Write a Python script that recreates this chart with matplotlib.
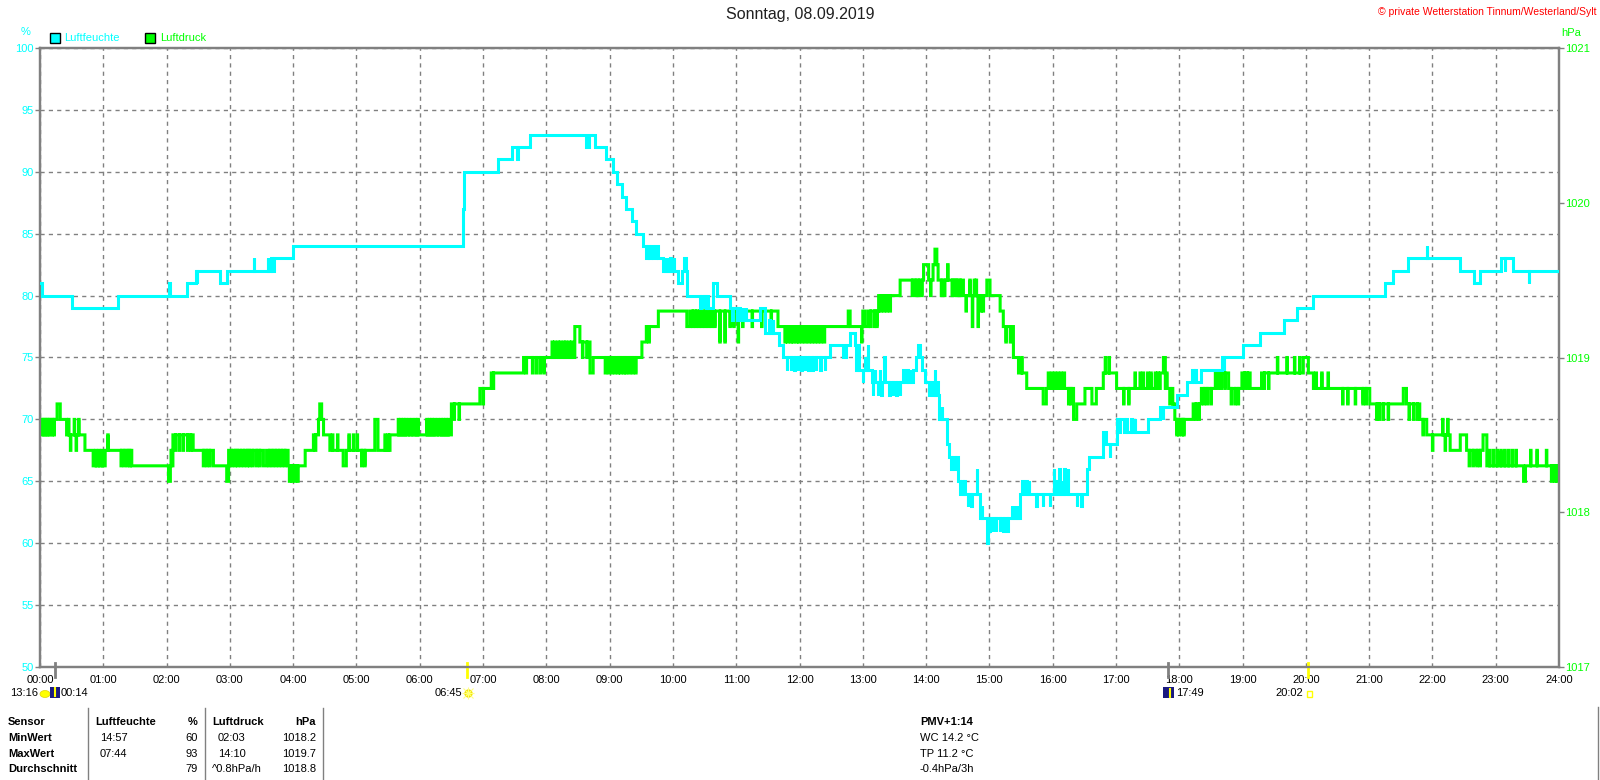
import bisect
import matplotlib
matplotlib.use('Agg')
import matplotlib.pyplot as plt
import matplotlib.patches as mpatches
from matplotlib.lines import Line2D
from matplotlib.transforms import blended_transform_factory

plt.rcParams['font.family'] = ['Liberation Sans', 'DejaVu Sans']

W, H = 1600, 780
CYAN = '#00FFFF'
GREEN = '#00FF00'
GREY = '#808080'
YELLOW = '#FFFF00'
NAVY = '#1A1A80'

# ---------------- data ----------------
title = 'Sonntag, 08.09.2019'
credit = '\u00a9 private Wetterstation Tinnum/Westerland/Sylt'
series_names = ['Luftfeuchte', 'Luftdruck']
hour_labels = [f'{h:02d}:00' for h in range(25)]
hum_ticks = [50, 55, 60, 65, 70, 75, 80, 85, 90, 95, 100]
pres_ticks = [1017, 1018, 1019, 1020, 1021]

# relative humidity (%): level changes (hour, value) and one-sample excursions (hour, value)
hum_base = [
    (0.00, 81), (0.03, 80), (0.50, 79), (1.24, 80), (2.32, 81), (2.46, 82), (2.84, 81), (2.95, 82),
    (3.70, 83), (4.00, 84), (6.68, 87), (6.70, 90), (7.24, 91), (7.45, 92), (7.74, 93), (8.63, 92),
    (8.68, 93), (8.77, 92), (8.94, 91), (9.06, 90), (9.11, 89), (9.19, 88), (9.26, 87), (9.35, 86),
    (9.41, 85), (9.53, 84), (9.58, 83), (9.61, 84), (9.63, 83), (9.66, 84), (9.69, 83), (9.74, 84),
    (9.76, 83), (9.84, 82), (10.08, 81), (10.14, 82), (10.17, 83), (10.20, 82), (10.22, 80), (10.56, 79),
    (10.64, 81), (10.69, 80), (10.90, 79), (11.01, 78), (11.04, 79), (11.06, 78), (11.38, 79), (11.46, 77),
    (11.67, 76), (11.74, 75), (12.48, 76), (12.69, 75), (12.73, 76), (12.80, 77), (12.87, 76), (12.90, 74),
    (13.15, 73), (13.80, 74), (13.84, 75), (13.87, 76), (13.91, 75), (13.94, 74), (13.98, 73), (14.11, 72),
    (14.20, 70), (14.33, 68), (14.36, 67), (14.51, 65), (14.54, 64), (14.85, 62), (14.96, 60), (14.98, 62),
    (15.48, 64), (16.54, 66), (16.58, 67), (16.80, 69), (16.85, 68), (17.01, 70), (17.12, 69), (17.51, 70),
    (17.70, 71), (17.96, 72), (18.12, 73), (18.20, 74), (18.23, 73), (18.25, 74), (18.27, 73), (18.35, 74),
    (18.67, 75), (19.01, 76), (19.28, 77), (19.65, 78), (19.86, 79), (20.12, 80), (21.25, 81), (21.38, 82),
    (21.62, 83), (22.44, 82), (22.65, 81), (22.75, 82), (23.09, 83), (23.28, 82), (24.00, 82),
]
hum_spikes = [
    (2.04, 81), (2.48, 81), (3.38, 83), (3.60, 83), (3.65, 83), (7.54, 91),
    (9.87, 83), (9.92, 83), (9.96, 83), (10.01, 83),
    (10.43, 79), (10.49, 79), (10.53, 79), (10.94, 78), (11.10, 79), (11.15, 79), (11.52, 78), (11.58, 78),
    (11.80, 74), (11.86, 74), (11.92, 74), (11.97, 74), (12.03, 74), (12.08, 74), (12.14, 74), (12.20, 74),
    (12.26, 74), (12.33, 74), (12.40, 74),
    (12.93, 76), (13.00, 73), (13.03, 75), (13.08, 76),
    (13.16, 72), (13.19, 74), (13.24, 72), (13.27, 74), (13.29, 72), (13.34, 75), (13.42, 72), (13.47, 72),
    (13.53, 72), (13.58, 72), (13.64, 74), (13.70, 74), (13.76, 74), (14.05, 72), (14.14, 74), (14.18, 73),
    (14.25, 71), (14.40, 66), (14.46, 66), (14.57, 65), (14.60, 65), (14.66, 63), (14.71, 63), (14.80, 66),
    (14.88, 63), (15.00, 61), (15.05, 61), (15.10, 61), (15.16, 61), (15.22, 61), (15.28, 61), (15.35, 63),
    (15.40, 63), (15.45, 63), (15.52, 65), (15.58, 65), (15.62, 65), (15.74, 63), (15.84, 63), (15.95, 63),
    (16.02, 66), (16.06, 65), (16.10, 66), (16.14, 65), (16.18, 66), (16.24, 66), (16.38, 63), (16.45, 63),
    (16.90, 67), (17.05, 69), (17.16, 70), (17.24, 70), (17.30, 70), (17.74, 70), (18.70, 74), (21.91, 84),
    (23.14, 82), (23.52, 81),
]

# air pressure (hPa): level changes (hour, value) and one-sample excursions (hour, value)
pres_base = [
    (0.00, 1018.6), (0.27, 1018.7), (0.32, 1018.6), (0.42, 1018.5), (0.71, 1018.4), (0.84, 1018.3),
    (1.03, 1018.4), (1.45, 1018.3), (2.03, 1018.2), (2.06, 1018.3), (2.10, 1018.5), (2.42, 1018.4),
    (2.74, 1018.3), (2.95, 1018.2), (2.98, 1018.4), (3.53, 1018.3), (3.58, 1018.4), (3.92, 1018.3),
    (4.19, 1018.4), (4.32, 1018.5), (4.40, 1018.6), (4.42, 1018.7), (4.45, 1018.6), (4.48, 1018.5),
    (4.58, 1018.4), (4.79, 1018.3), (4.84, 1018.4), (5.29, 1018.6), (5.34, 1018.4), (5.53, 1018.5),
    (6.50, 1018.7), (6.95, 1018.8), (7.13, 1018.9), (7.64, 1019.0), (8.45, 1019.2), (8.53, 1019.1),
    (8.69, 1018.9), (8.74, 1019.0), (9.51, 1019.1), (9.58, 1019.2), (9.77, 1019.3), (10.22, 1019.2),
    (10.27, 1019.3), (11.66, 1019.2), (12.77, 1019.3), (12.80, 1019.2), (13.00, 1019.3), (13.04, 1019.2),
    (13.09, 1019.3), (13.25, 1019.4), (13.59, 1019.5), (13.96, 1019.6), (14.04, 1019.5), (14.11, 1019.6),
    (14.14, 1019.7), (14.17, 1019.6), (14.19, 1019.5), (14.59, 1019.4), (14.96, 1019.5), (15.01, 1019.4),
    (15.17, 1019.3), (15.22, 1019.2), (15.38, 1019.0), (15.46, 1018.9), (15.59, 1018.8), (15.85, 1018.7),
    (15.90, 1018.8), (16.33, 1018.6), (16.38, 1018.7), (16.51, 1018.8), (16.62, 1018.7), (16.69, 1018.8),
    (16.80, 1018.9), (17.01, 1018.8), (17.70, 1018.9), (17.75, 1019.0), (17.78, 1018.8), (17.85, 1018.7),
    (17.93, 1018.6), (18.22, 1018.7), (18.35, 1018.8), (18.57, 1018.9), (18.78, 1018.8), (18.99, 1018.9),
    (19.12, 1018.8), (19.30, 1018.9), (19.96, 1019.0), (20.04, 1018.9), (20.12, 1018.8), (21.01, 1018.7),
    (21.54, 1018.8), (21.59, 1018.7), (21.80, 1018.6), (21.91, 1018.5), (22.28, 1018.4), (22.44, 1018.5),
    (22.54, 1018.4), (22.80, 1018.5), (22.86, 1018.3), (23.44, 1018.2), (23.47, 1018.3), (24.00, 1018.3),
]
pres_spikes = [
    (0.03, 1018.5), (0.06, 1018.5), (0.09, 1018.5), (0.12, 1018.5), (0.15, 1018.5), (0.19, 1018.5),
    (0.22, 1018.5), (0.45, 1018.6), (0.48, 1018.4), (0.54, 1018.6), (0.57, 1018.4), (0.61, 1018.6),
    (0.88, 1018.4), (0.93, 1018.4), (0.98, 1018.4), (1.07, 1018.5), (1.28, 1018.3), (1.33, 1018.3),
    (1.38, 1018.3), (1.42, 1018.3), (2.07, 1018.4), (2.14, 1018.4), (2.20, 1018.4), (2.26, 1018.4),
    (2.33, 1018.4), (2.38, 1018.4), (2.58, 1018.3), (2.63, 1018.3), (2.68, 1018.3),
    (3.03, 1018.3), (3.08, 1018.3), (3.12, 1018.3), (3.17, 1018.3), (3.22, 1018.3), (3.27, 1018.3),
    (3.31, 1018.3), (3.36, 1018.3), (3.42, 1018.3), (3.47, 1018.3), (3.62, 1018.3), (3.67, 1018.3),
    (3.72, 1018.3), (3.77, 1018.3), (3.82, 1018.3), (3.87, 1018.3), (3.94, 1018.2), (3.98, 1018.2),
    (4.03, 1018.2), (4.07, 1018.2), (4.35, 1018.4), (4.62, 1018.5), (4.70, 1018.5), (4.88, 1018.5),
    (4.95, 1018.5), (5.01, 1018.5), (5.08, 1018.3), (5.13, 1018.3), (5.45, 1018.5), (5.50, 1018.5),
    (5.66, 1018.6), (5.70, 1018.6), (5.74, 1018.6), (5.78, 1018.6), (5.83, 1018.6), (5.88, 1018.6),
    (5.93, 1018.6), (5.97, 1018.6), (6.11, 1018.6), (6.15, 1018.6), (6.19, 1018.6), (6.23, 1018.6),
    (6.28, 1018.6), (6.33, 1018.6), (6.37, 1018.6), (6.41, 1018.6), (6.45, 1018.6), (6.54, 1018.6),
    (6.62, 1018.6), (7.00, 1018.7), (7.16, 1018.8), (7.68, 1018.9), (7.78, 1018.9), (7.84, 1018.9),
    (7.90, 1018.9), (7.96, 1018.9), (8.09, 1019.1), (8.13, 1019.1), (8.18, 1019.1), (8.22, 1019.1),
    (8.27, 1019.1), (8.31, 1019.1), (8.36, 1019.1), (8.40, 1019.1), (8.57, 1019.0), (8.64, 1019.0),
    (8.93, 1018.9), (8.98, 1018.9), (9.03, 1018.9), (9.08, 1018.9), (9.13, 1018.9), (9.17, 1018.9),
    (9.22, 1018.9), (9.26, 1018.9), (9.31, 1018.9), (9.36, 1018.9), (9.41, 1018.9), (9.62, 1019.1),
    (10.31, 1019.2), (10.36, 1019.2), (10.41, 1019.2), (10.46, 1019.2), (10.51, 1019.2), (10.56, 1019.2),
    (10.61, 1019.2), (10.66, 1019.2), (10.74, 1019.1), (10.82, 1019.1), (10.90, 1019.2), (10.96, 1019.2),
    (11.03, 1019.1), (11.10, 1019.2), (11.25, 1019.2), (11.40, 1019.2), (11.55, 1019.2),
    (11.77, 1019.1), (11.81, 1019.1), (11.86, 1019.1), (11.90, 1019.1), (11.95, 1019.1), (11.99, 1019.1),
    (12.04, 1019.1), (12.09, 1019.1), (12.14, 1019.1), (12.19, 1019.1), (12.24, 1019.1), (12.29, 1019.1),
    (12.34, 1019.1), (12.39, 1019.1), (12.98, 1019.1), (13.12, 1019.2), (13.18, 1019.2), (13.22, 1019.2),
    (13.28, 1019.3), (13.33, 1019.3), (13.38, 1019.3), (13.43, 1019.3), (13.78, 1019.4), (13.83, 1019.4),
    (13.88, 1019.4), (13.93, 1019.4), (14.07, 1019.4), (14.24, 1019.4), (14.29, 1019.4), (14.34, 1019.6),
    (14.41, 1019.4), (14.45, 1019.4), (14.49, 1019.4), (14.54, 1019.4), (14.63, 1019.3), (14.69, 1019.5),
    (14.73, 1019.2), (14.76, 1019.5), (14.79, 1019.5), (14.82, 1019.2), (14.86, 1019.3), (14.90, 1019.3),
    (15.26, 1019.1), (15.33, 1019.1), (15.51, 1019.0), (15.93, 1018.9), (15.98, 1018.9), (16.03, 1018.9),
    (16.08, 1018.9), (16.13, 1018.9), (16.18, 1018.9), (16.25, 1018.7), (16.29, 1018.7), (16.83, 1019.0),
    (16.89, 1019.0), (17.12, 1018.7), (17.20, 1018.7), (17.30, 1018.9), (17.38, 1018.9), (17.43, 1018.9),
    (17.50, 1018.9), (17.55, 1018.9), (17.62, 1018.9), (17.66, 1018.9), (17.80, 1018.9), (17.89, 1018.8),
    (17.96, 1018.5), (17.99, 1018.5), (18.04, 1018.5), (18.07, 1018.5), (18.26, 1018.6), (18.31, 1018.6),
    (18.39, 1018.7), (18.44, 1018.7), (18.50, 1018.7), (18.61, 1018.8), (18.66, 1018.8), (18.72, 1018.8),
    (18.82, 1018.7), (18.88, 1018.7), (18.93, 1018.7), (19.03, 1018.8), (19.08, 1018.8), (19.34, 1018.8),
    (19.41, 1018.8), (19.55, 1019.0), (19.70, 1019.0), (19.82, 1019.0), (19.90, 1019.0), (20.16, 1018.9),
    (20.25, 1018.9), (20.35, 1018.9), (20.58, 1018.7), (20.66, 1018.7), (20.78, 1018.7), (20.90, 1018.7),
    (20.95, 1018.7), (21.12, 1018.6), (21.16, 1018.6), (21.22, 1018.6), (21.30, 1018.6), (21.63, 1018.6),
    (21.70, 1018.6), (21.76, 1018.6), (21.85, 1018.5), (22.00, 1018.4), (22.16, 1018.6), (22.20, 1018.4),
    (22.24, 1018.6), (22.58, 1018.3), (22.64, 1018.3), (22.70, 1018.3), (22.75, 1018.3), (22.90, 1018.4),
    (22.96, 1018.4), (23.02, 1018.4), (23.08, 1018.4), (23.14, 1018.4), (23.20, 1018.4), (23.26, 1018.4),
    (23.32, 1018.4), (23.55, 1018.4), (23.65, 1018.4), (23.80, 1018.4), (23.88, 1018.2), (23.93, 1018.2),
    (23.97, 1018.2),
]

# astronomical events on the time axis (hour, colour)
event_hours = [0.233, 6.75, 17.817, 20.033]
event_colors = [GREY, YELLOW, GREY, YELLOW]

# statistics table
table_rows = ['Sensor', 'MinWert', 'MaxWert', 'Durchschnitt']
hum_col_times = ['Luftfeuchte', '14:57', '07:44', '']
hum_col_vals = ['%', '60', '93', '79']
pres_col_times = ['Luftdruck', '02:03', '14:10', '^0.8hPa/h']
pres_col_vals = ['hPa', '1018.2', '1019.7', '1018.8']
pmv_lines = ['PMV+1:14', 'WC 14.2 \u00b0C', 'TP 11.2 \u00b0C', '-0.4hPa/3h']


def build_series(base, spikes, width=0.008):
    """merge level changes with single-sample excursions into one step series"""
    bt = [t for t, _ in base]
    bv = [v for _, v in base]
    pts = list(base)
    for t, v in spikes:
        i = bisect.bisect_right(bt, t) - 1
        pts += [(t, v), (t + width, bv[i])]
    pts.sort(key=lambda p: p[0])
    return [p[0] for p in pts], [p[1] for p in pts]


# ---------------- figure ----------------
fig = plt.figure(figsize=(W / 100, H / 100), dpi=100)
fig.patch.set_facecolor('white')

L, R, T, B = 40, 1559, 48, 667
rect = [L / W, 1 - B / H, (R - L) / W, (B - T) / H]
ax = fig.add_axes(rect)       # humidity axis + grid
ax2 = ax.twinx()              # pressure
ax3 = ax.twinx()              # humidity line drawn on top

ax.set_xlim(0, 24)
ax.set_ylim(50, 100)
ax2.set_ylim(1017, 1021)
ax3.set_ylim(50, 100)
ax3.axis('off')

ax.set_xticks(range(25))
ax.set_xticklabels(hour_labels)
ax.set_yticks(hum_ticks)
ax.set_yticklabels([str(v) for v in hum_ticks])
ax2.set_yticks(pres_ticks)
ax2.set_yticklabels([str(v) for v in pres_ticks])

ax.grid(True, color=GREY, linestyle=(0, (3, 3)), linewidth=1)
ax.tick_params(axis='x', length=0, pad=6, labelsize=8, labelcolor='black')
ax.tick_params(axis='y', length=3.5, width=1, color=GREY, pad=1, labelsize=8, labelcolor=CYAN)
ax2.tick_params(axis='y', length=3.5, width=1, color=GREY, pad=1, labelsize=8, labelcolor=GREEN)

for a in (ax, ax2):
    for s in a.spines.values():
        s.set_color(GREY)
        s.set_linewidth(1.6)

pt, pv = build_series(pres_base, pres_spikes)
ax2.step(pt, pv, where='post', color=GREEN, linewidth=2.2, solid_joinstyle='miter')
ht, hv = build_series(hum_base, hum_spikes)
ax3.step(ht, hv, where='post', color=CYAN, linewidth=2.2, solid_joinstyle='miter')

# event ticks on the time axis
btr = blended_transform_factory(ax.transData, ax.transAxes)
for eh, ec in zip(event_hours, event_colors):
    ax.add_line(Line2D([eh, eh], [0.006, -0.016], transform=btr, color=ec,
                       linewidth=2, clip_on=False, zorder=5))


def ftext(x, y, s, **kw):
    fig.text(x / W, 1 - y / H, s, **kw)


def frect(x0, y0, x1, y1, **kw):
    fig.add_artist(mpatches.Rectangle((x0 / W, 1 - y1 / H), (x1 - x0) / W, (y1 - y0) / H,
                                      transform=fig.transFigure, **kw))


def fline(xs, ys, **kw):
    fig.add_artist(Line2D([x / W for x in xs], [1 - y / H for y in ys],
                          transform=fig.transFigure, **kw))


# title and credit
ftext(800, 15, title, ha='center', va='center', fontsize=11.5, color='#202020')
ftext(1597, 12, credit, ha='right', va='center', fontsize=7.5, color='#FF0000')

# axis units
ftext(26, 32, '%', ha='center', va='center', fontsize=8, color=CYAN)
ftext(1561, 33, 'hPa', ha='left', va='center', fontsize=8, color=GREEN)

# legend
frect(50, 33, 60, 43, facecolor=CYAN, edgecolor='black', linewidth=1)
ftext(64, 38, series_names[0], ha='left', va='center', fontsize=8, color=CYAN)
frect(145, 33, 155, 43, facecolor=GREEN, edgecolor='black', linewidth=1)
ftext(160, 38, series_names[1], ha='left', va='center', fontsize=8, color=GREEN)

# event labels below the time axis
ev_y = 693
ftext(10, ev_y, '13:16', ha='left', va='center', fontsize=8)
fig.add_artist(mpatches.Ellipse((45 / W, 1 - 694 / H), 10 / W, 7 / H, transform=fig.transFigure,
                                facecolor=YELLOW, edgecolor='#E0D000', linewidth=0.5))
frect(50, 687, 60, 698, facecolor=NAVY, edgecolor='none')
fline([55, 55], [688, 696], color=YELLOW, linewidth=1.5)
ftext(61, ev_y, '00:14', ha='left', va='center', fontsize=8)

ftext(462, ev_y, '06:45', ha='right', va='center', fontsize=8)
fline([468], [693], marker='o', markersize=5, color=YELLOW, markeredgecolor='#F0E000')
fline([468], [693], marker='+', markersize=9, color='#FFFF80', markeredgewidth=0.8)
fline([468], [693], marker='x', markersize=7, color='#FFFF80', markeredgewidth=0.8)

frect(1163, 687, 1174, 698, facecolor=NAVY, edgecolor='none')
fline([1170, 1170], [689, 697], color=YELLOW, linewidth=1.5)
ftext(1176, ev_y, '17:49', ha='left', va='center', fontsize=8)

ftext(1303, ev_y, '20:02', ha='right', va='center', fontsize=8)
frect(1307, 691, 1312, 697, facecolor='none', edgecolor=YELLOW, linewidth=1)

# statistics table
row_y = [722, 738, 754, 769]
for i, y in enumerate(row_y):
    bold = 'bold' if i == 0 else 'normal'
    ftext(8, y, table_rows[i], ha='left', va='center', fontsize=8, fontweight='bold')
    ftext(95 if i == 0 else 100, y, hum_col_times[i], ha='left', va='center', fontsize=8, fontweight=bold)
    ftext(198, y, hum_col_vals[i], ha='right', va='center', fontsize=8, fontweight=bold)
    ftext(212 if i in (0, 3) else 218, y, pres_col_times[i], ha='left', va='center', fontsize=8,
          fontweight=bold)
    ftext(316, y, pres_col_vals[i], ha='right', va='center', fontsize=8, fontweight=bold)
    ftext(920, y, pmv_lines[i], ha='left', va='center', fontsize=8, fontweight=bold)

for x in (88, 205, 323):
    fline([x, x], [708, 780], color=GREY, linewidth=1)
fline([1598, 1598], [707, 780], color=GREY, linewidth=1)

fig.savefig('out.png', dpi=100, facecolor='white')
